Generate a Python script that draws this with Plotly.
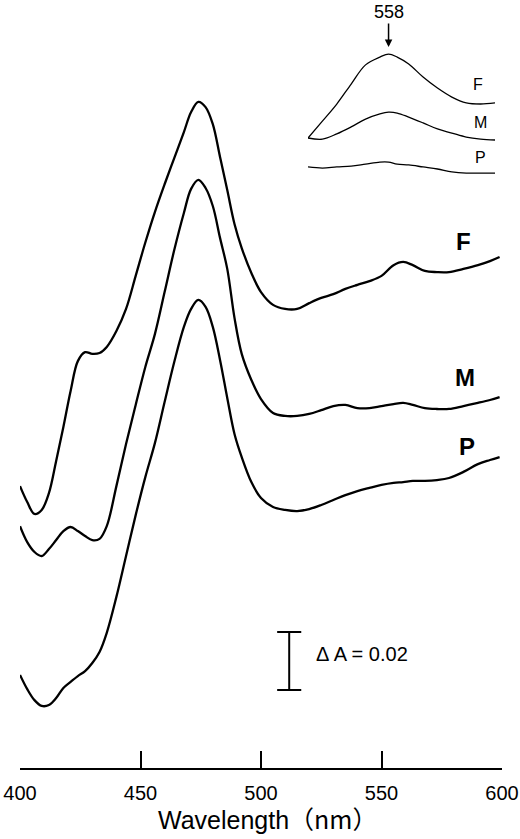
import plotly.graph_objects as go

# -- main spectra (absorbance, curves offset for display) --
wavelength = [400, 403, 406, 409, 412, 415, 418, 421, 424, 427, 430, 433, 436,
              440, 444, 448, 452, 456, 460, 464, 468,
              471, 474, 477, 480, 483, 486, 489, 492,
              496, 500, 505, 510, 515, 520, 525, 530, 535, 540, 545, 550,
              555, 559, 563, 568, 573, 578, 584, 590, 595, 599]

abs_F = [0.0972, 0.0917, 0.0876, 0.0890, 0.0948, 0.1059, 0.1176, 0.1300, 0.1403, 0.1434, 0.1428, 0.1431, 0.1452,
         0.1507, 0.1583, 0.1697, 0.1812, 0.1918, 0.2013, 0.2103, 0.2193,
         0.2262, 0.2297, 0.2279, 0.2220, 0.2107, 0.1993, 0.1876, 0.1793,
         0.1707, 0.1641, 0.1597, 0.1583, 0.1583, 0.1603, 0.1621, 0.1634, 0.1652, 0.1666, 0.1679, 0.1697,
         0.1734, 0.1745, 0.1734, 0.1714, 0.1710, 0.1710, 0.1721, 0.1734, 0.1748, 0.1762]

abs_M = [0.0834, 0.0779, 0.0745, 0.0731, 0.0755, 0.0786, 0.0817, 0.0831, 0.0817, 0.0800, 0.0786, 0.0790, 0.0834,
         0.0972, 0.1117, 0.1252, 0.1383, 0.1497, 0.1641, 0.1786, 0.1914,
         0.1997, 0.2028, 0.2000, 0.1938, 0.1828, 0.1721, 0.1552, 0.1428,
         0.1338, 0.1272, 0.1224, 0.1214, 0.1214, 0.1221, 0.1234, 0.1248, 0.1252, 0.1241, 0.1241, 0.1248,
         0.1255, 0.1259, 0.1252, 0.1241, 0.1238, 0.1238, 0.1248, 0.1259, 0.1269, 0.1279]

abs_P = [0.0321, 0.0272, 0.0234, 0.0214, 0.0217, 0.0241, 0.0276, 0.0297, 0.0317, 0.0334, 0.0362, 0.0400, 0.0466,
         0.0590, 0.0731, 0.0872, 0.1003, 0.1121, 0.1262, 0.1400, 0.1521,
         0.1583, 0.1614, 0.1590, 0.1521, 0.1407, 0.1276, 0.1152, 0.1072,
         0.0986, 0.0931, 0.0900, 0.0890, 0.0886, 0.0893, 0.0907, 0.0924, 0.0941, 0.0955, 0.0966, 0.0976,
         0.0983, 0.0986, 0.0990, 0.0990, 0.0993, 0.1000, 0.1021, 0.1048, 0.1062, 0.1072]

# -- inset (expanded 530-595 nm region) --
inset_wl = [530, 535, 540, 545, 550, 555, 558, 561, 565, 570, 575, 580, 585, 590, 595]
inset_F = [0.0145, 0.0203, 0.0262, 0.0331, 0.0397, 0.0424, 0.0434, 0.0424, 0.0400, 0.0355,
           0.0317, 0.0286, 0.0266, 0.0262, 0.0266]
inset_M = [0.0145, 0.0141, 0.0159, 0.0183, 0.0210, 0.0228, 0.0234, 0.0231, 0.0217, 0.0197,
           0.0176, 0.0162, 0.0148, 0.0141, 0.0138]
inset_P = [0.0045, 0.0041, 0.0045, 0.0048, 0.0055, 0.0062, 0.0062, 0.0055, 0.0052, 0.0045,
           0.0038, 0.0028, 0.0024, 0.0024, 0.0024]

x_ticks = [400, 450, 500, 550, 600]

LABEL_FONT = "Liberation Sans"

fig = go.Figure()

for ys in (abs_F, abs_M, abs_P):
    fig.add_trace(go.Scatter(
        x=wavelength, y=ys, mode="lines",
        line=dict(color="black", width=2.3, shape="spline", smoothing=1.0),
        showlegend=False, hoverinfo="skip",
    ))

for ys in (inset_F, inset_M, inset_P):
    fig.add_trace(go.Scatter(
        x=inset_wl, y=ys, mode="lines", xaxis="x2", yaxis="y2",
        line=dict(color="black", width=1.3, shape="spline", smoothing=1.0),
        showlegend=False, hoverinfo="skip",
    ))

# curve labels
for txt, xv, yv in (("F", 584.0, 0.1814), ("M", 584.8, 0.1345), ("P", 585.6, 0.1107)):
    fig.add_annotation(x=xv, y=yv, text=f"<b>{txt}</b>", showarrow=False,
                       font=dict(family=LABEL_FONT, size=24, color="black"))
for txt, xv, yv in (("F", 589.1, 0.0328), ("M", 589.8, 0.0197), ("P", 589.8, 0.0076)):
    fig.add_annotation(x=xv, y=yv, xref="x2", yref="y2", text=txt, showarrow=False,
                       font=dict(family=LABEL_FONT, size=16, color="black"))

# 558 nm arrow
fig.add_annotation(x=558, y=0.0459, xref="x2", yref="y2", text="558",
                   showarrow=True, arrowhead=2, arrowsize=1, arrowwidth=1.5,
                   arrowcolor="black", ax=0, ay=-35,
                   font=dict(family=LABEL_FONT, size=18, color="black"))

# scale bar  (ΔA = 0.02)
bar_x, bar_half, bar_y0, bar_da = 511.7, 5.0, 0.0269, 0.02
bar_line = dict(color="black", width=2)
fig.add_shape(type="line", x0=bar_x, x1=bar_x, y0=bar_y0, y1=bar_y0 + bar_da, line=bar_line)
fig.add_shape(type="line", x0=bar_x - bar_half, x1=bar_x + bar_half, y0=bar_y0, y1=bar_y0, line=bar_line)
fig.add_shape(type="line", x0=bar_x - bar_half, x1=bar_x + bar_half,
              y0=bar_y0 + bar_da, y1=bar_y0 + bar_da, line=bar_line)
fig.add_annotation(x=522.0, y=0.0393, text="Δ A = 0.02", showarrow=False, xanchor="left",
                   font=dict(family=LABEL_FONT, size=20, color="black"))

# x-axis title (full-width brackets as in the original)
fig.add_annotation(x=0.5145, y=-0.0651, xref="paper", yref="paper",
                   text="Wavelength<span style='font-family:Noto Sans CJK JP'>（nm）</span>",
                   showarrow=False, yanchor="middle",
                   font=dict(family=LABEL_FONT, size=25, color="black"))

fig.update_layout(
    width=520, height=839,
    margin=dict(l=20, r=18, t=0, b=71),
    paper_bgcolor="white", plot_bgcolor="white",
    xaxis=dict(
        range=[400, 600], tickvals=x_ticks, ticks="inside", ticklen=17, tickwidth=2,
        tickcolor="black", showline=True, linecolor="black", linewidth=2,
        showgrid=False, zeroline=False, ticklabelstandoff=6,
        tickfont=dict(family=LABEL_FONT, size=20, color="black"),
    ),
    yaxis=dict(range=[0, 0.26483], visible=False),
    xaxis2=dict(domain=[0.5975, 0.9855], range=[530, 595], anchor="y2", visible=False),
    yaxis2=dict(domain=[0.7656, 0.9414], range=[0, 0.04655], anchor="x2", visible=False),
)

fig.write_html("out.html", config={"displayModeBar": False},
               post_script="document.body.style.margin='0';")
